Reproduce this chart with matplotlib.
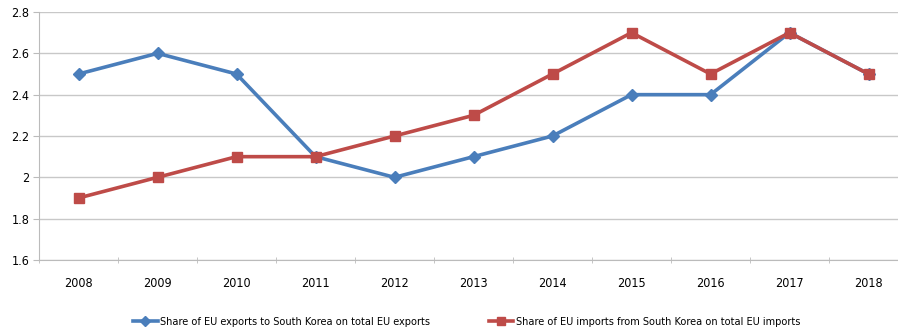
import numpy as np
import matplotlib.pyplot as plt

plt.rcParams['font.family'] = ['DejaVu Sans']
plt.rcParams['font.stretch'] = 'condensed'

years = ['2008', '2009', '2010', '2011', '2012', '2013', '2014', '2015', '2016', '2017', '2018']
exports = [2.5, 2.6, 2.5, 2.1, 2.0, 2.1, 2.2, 2.4, 2.4, 2.7, 2.5]
imports = [1.9, 2.0, 2.1, 2.1, 2.2, 2.3, 2.5, 2.7, 2.5, 2.7, 2.5]

blue = '#4A7EBB'
red = '#BE4B48'

fig = plt.figure(figsize=(8.98, 3.33), dpi=100)
# right edge of the plot area runs past the image, as in the original
ax = fig.add_axes([39 / 898, 73 / 333, 869 / 898, 248 / 333])

x = np.arange(len(years))
ax.plot(x, exports, color=blue, lw=2.6, marker='D', ms=6.5, label='Share of EU exports to South Korea on total EU exports')
ax.plot(x, imports, color=red, lw=2.6, marker='s', ms=7.5, label='Share of EU imports from South Korea on total EU imports')

ax.set_xlim(-0.5, len(years) - 0.5)
ax.set_ylim(1.6, 2.8)
ax.set_yticks([1.6, 1.8, 2.0, 2.2, 2.4, 2.6, 2.8])
ax.set_yticklabels(['1.6', '1.8', '2', '2.2', '2.4', '2.6', '2.8'], fontsize=9)
ax.set_xticks(x)
ax.set_xticklabels(years, fontsize=9)
ax.set_xticks(np.arange(-0.5, len(years)), minor=True)
ax.tick_params(axis='x', which='major', length=0, pad=12)
ax.tick_params(axis='x', which='minor', length=5, color='#bbbbbb', direction='inout')
ax.tick_params(axis='y', length=4, color='#bbbbbb', pad=3)

ax.grid(axis='y', color='#c8c8c8', lw=1)
ax.set_axisbelow(True)
for s in ['top', 'right']:
    ax.spines[s].set_visible(False)
ax.spines['left'].set_color('#bbbbbb')
ax.spines['bottom'].set_color('#bbbbbb')

fig.legend(loc='lower center', bbox_to_anchor=(0.5195, -0.012), ncol=2, frameon=False,
           fontsize=7.8, handlelength=2.3, columnspacing=5.4, handletextpad=0.2,
           markerscale=0.8)

fig.savefig('out.png', dpi=100)
